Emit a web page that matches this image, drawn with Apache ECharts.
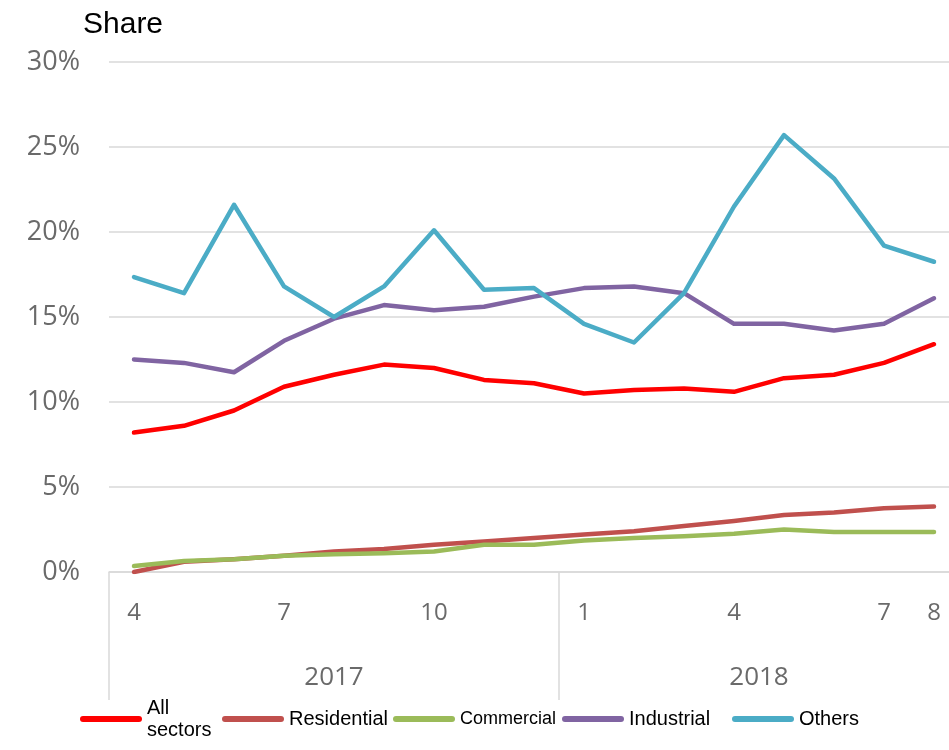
<!DOCTYPE html>
<html>
<head>
<meta charset="utf-8">
<title>Share by sector</title>
<script src="https://cdn.jsdelivr.net/npm/echarts@6.0.0/dist/echarts.min.js"></script>
<style>
  html, body { margin: 0; padding: 0; background: #ffffff; }
  #chart { width: 949px; height: 750px; }
</style>
</head>
<body>
<div id="chart"></div>
<script>
// Monthly periods, April 2017 to August 2018
const periods = [
  '2017-04', '2017-05', '2017-06', '2017-07', '2017-08', '2017-09',
  '2017-10', '2017-11', '2017-12', '2018-01', '2018-02', '2018-03',
  '2018-04', '2018-05', '2018-06', '2018-07', '2018-08'
];

// Months whose number is printed under the axis
const labelledMonths = ['2017-04', '2017-07', '2017-10', '2018-01', '2018-04', '2018-07', '2018-08'];

// Share values (%) per sector
const allSectors  = [8.2, 8.6, 9.5, 10.9, 11.6, 12.2, 12.0, 11.3, 11.1, 10.5, 10.7, 10.8, 10.6, 11.4, 11.6, 12.3, 13.4];
const residential = [0.0, 0.6, 0.75, 0.95, 1.2, 1.35, 1.6, 1.8, 2.0, 2.2, 2.4, 2.7, 3.0, 3.35, 3.5, 3.75, 3.85];
const commercial  = [0.35, 0.65, 0.75, 0.95, 1.05, 1.1, 1.2, 1.6, 1.6, 1.85, 2.0, 2.1, 2.25, 2.5, 2.35, 2.35, 2.35];
const industrial  = [12.5, 12.3, 11.75, 13.6, 14.9, 15.7, 15.4, 15.6, 16.2, 16.7, 16.8, 16.4, 14.6, 14.6, 14.2, 14.6, 16.1];
const others      = [17.35, 16.4, 21.6, 16.8, 15.0, 16.8, 20.1, 16.6, 16.7, 14.6, 13.5, 16.4, 21.5, 25.7, 23.15, 19.2, 18.25];

const seriesNames = ['All sectors', 'Residential', 'Commercial', 'Industrial', 'Others'];
const seriesData  = [allSectors, residential, commercial, industrial, others];
const seriesColors = ['#ff0000', '#c0504d', '#9bbb59', '#8064a2', '#4bacc6'];

// Year groups derived from the periods: first index, last index, centre
const years = [];
periods.forEach((p, i) => {
  const y = p.slice(0, 4);
  const last = years[years.length - 1];
  if (!last || last.year !== y) years.push({ year: y, start: i, end: i });
  else last.end = i;
});
const yearCentres = years.map(g => (g.start + g.end) / 2);
const yearBounds = years.map(g => g.start - 0.5);

const axisGray = '#6a6a6a';
const lineGray = '#d9d9d9';
const numFont = '"Open Sans", "DejaVu Sans", sans-serif';
const textFont = '"Liberation Sans", Arial, sans-serif';

// One small legend per series so each entry sits where it belongs
const legendLefts = [80, 222, 393, 562, 732];
const legends = seriesNames.map((name, i) => {
  const lg = {
    data: [name],
    left: legendLefts[i],
    top: 708,
    padding: 0,
    itemWidth: 62,
    itemHeight: 6,
    icon: 'path://M3,0 L59,0 A3,3 0 0 1 59,6 L3,6 A3,3 0 0 1 3,0 Z',
    selectedMode: false,
    textStyle: {
      fontFamily: textFont,
      fontSize: i === 2 ? 18 : 20,
      color: '#000000',
      lineHeight: 22
    }
  };
  if (i === 0) {
    lg.formatter = n => n.replace(' ', '\n');
    lg.textStyle.padding = [22, 0, 0, 0];
    lg.top = 686;
  }
  return lg;
});

const chart = echarts.init(document.getElementById('chart'), null, { renderer: 'canvas' });

chart.setOption({
  animation: false,
  backgroundColor: '#ffffff',
  title: {
    text: 'Share',
    left: 83,
    top: 10,
    padding: 0,
    textStyle: { fontFamily: textFont, fontSize: 30, fontWeight: 'normal', color: '#000000' }
  },
  legend: legends,
  // the plot runs a little past the right edge of the canvas
  grid: { left: 109, width: 850, top: 62, bottom: 178, containLabel: false, outerBoundsMode: 'none' },
  xAxis: [
    {
      type: 'category',
      data: periods,
      boundaryGap: true,
      position: 'bottom',
      axisLine: { show: true, lineStyle: { color: lineGray, width: 1.5 } },
      axisTick: { show: false },
      axisLabel: {
        interval: (idx, val) => labelledMonths.indexOf(val) !== -1,
        formatter: v => String(parseInt(v.slice(5), 10)),
        margin: 29,
        fontFamily: numFont,
        fontSize: 24,
        color: axisGray
      },
      splitLine: { show: false }
    },
    {
      type: 'value',
      min: -0.5,
      max: periods.length - 0.5,
      position: 'bottom',
      offset: 0,
      axisLine: { show: false },
      axisTick: {
        show: true,
        customValues: yearBounds,
        length: 128,
        inside: false,
        lineStyle: { color: lineGray, width: 1.5 }
      },
      axisLabel: {
        customValues: yearCentres,
        formatter: v => {
          const k = yearCentres.findIndex(c => Math.abs(c - v) < 1e-6);
          return k >= 0 ? years[k].year : '';
        },
        margin: 93,
        fontFamily: numFont,
        fontSize: 26,
        color: axisGray
      },
      splitLine: { show: false }
    }
  ],
  yAxis: {
    type: 'value',
    min: 0,
    max: 30,
    interval: 5,
    axisLine: { show: false },
    axisTick: { show: false },
    axisLabel: {
      formatter: '{value}%',
      margin: 29,
      fontFamily: numFont,
      fontSize: 27,
      color: axisGray
    },
    splitLine: { show: true, lineStyle: { color: lineGray, width: 1.5 } }
  },
  series: seriesNames.map((name, i) => ({
    name: name,
    type: 'line',
    xAxisIndex: 0,
    data: seriesData[i],
    showSymbol: false,
    symbol: 'none',
    smooth: false,
    color: seriesColors[i],
    lineStyle: { width: 4.5, color: seriesColors[i], cap: 'round', join: 'round' },
    emphasis: { disabled: true }
  }))
});
</script>
</body>
</html>
